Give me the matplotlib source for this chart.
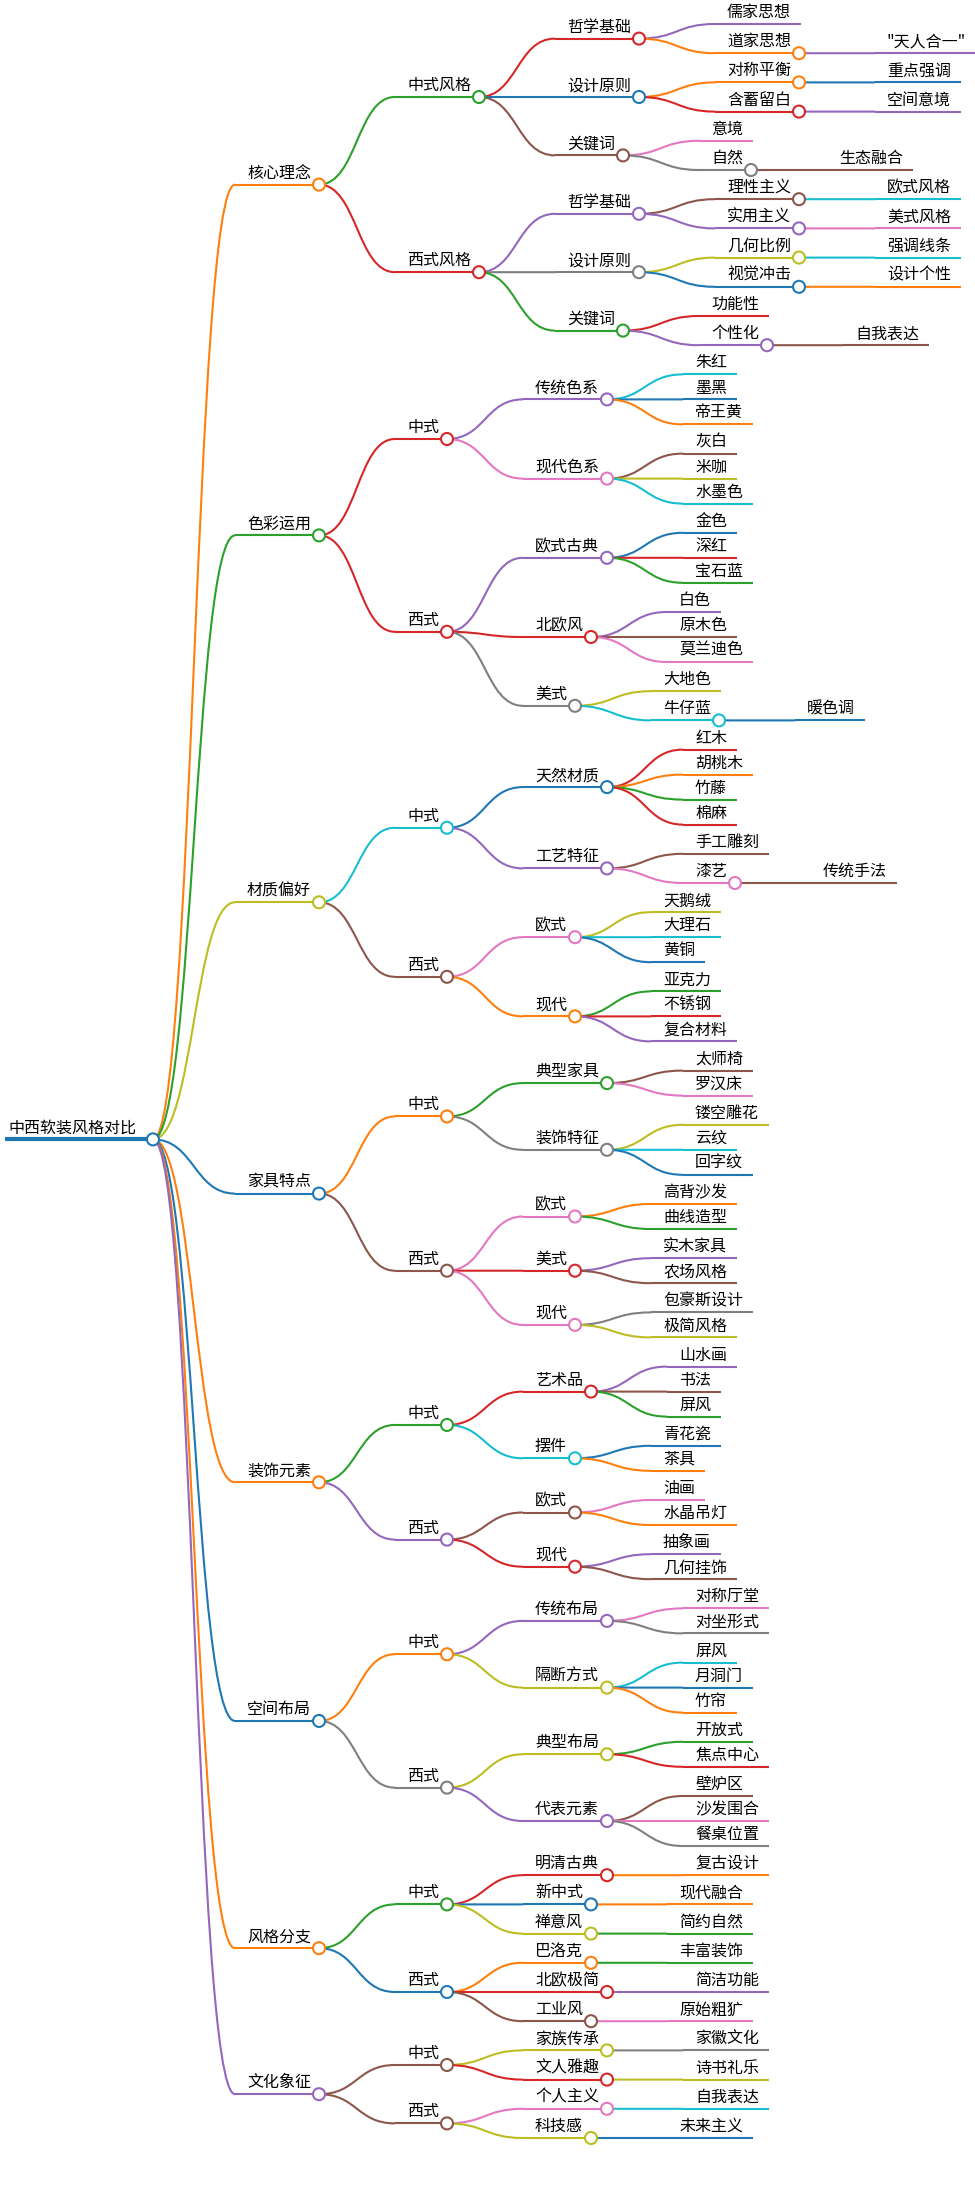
import matplotlib
matplotlib.use("Agg")
import matplotlib.pyplot as plt
from matplotlib.path import Path
from matplotlib.patches import PathPatch, Circle

C = {'b': '#1f77b4', 'o': '#ff7f0e', 'g': '#2ca02c', 'r': '#d62728', 'p': '#9467bd',
     'n': '#8c564b', 'k': '#e377c2', 'y': '#7f7f7f', 'l': '#bcbd22', 'c': '#17becf'}

root_label = "中西软装风格对比"
core = ("核心理念", 'o', [
    ("中式风格", 'g', [
        ("哲学基础", 'r', [("儒家思想", 'p', []), ("道家思想", 'o', [("\"天人合一\"", 'p', [])])]),
        ("设计原则", 'b', [("对称平衡", 'o', [("重点强调", 'b', [])]), ("含蓄留白", 'r', [("空间意境", 'p', [])])]),
        ("关键词", 'n', [("意境", 'k', []), ("自然", 'y', [("生态融合", 'n', [])])])]),
    ("西式风格", 'r', [
        ("哲学基础", 'p', [("理性主义", 'n', [("欧式风格", 'c', [])]), ("实用主义", 'p', [("美式风格", 'k', [])])]),
        ("设计原则", 'y', [("几何比例", 'l', [("强调线条", 'c', [])]), ("视觉冲击", 'b', [("设计个性", 'o', [])])]),
        ("关键词", 'g', [("功能性", 'r', []), ("个性化", 'p', [("自我表达", 'n', [])])])])])
color_use = ("色彩运用", 'g', [
    ("中式", 'r', [
        ("传统色系", 'p', [("朱红", 'c', []), ("墨黑", 'b', []), ("帝王黄", 'o', [])]),
        ("现代色系", 'k', [("灰白", 'n', []), ("米咖", 'l', []), ("水墨色", 'c', [])])]),
    ("西式", 'r', [
        ("欧式古典", 'p', [("金色", 'b', []), ("深红", 'r', []), ("宝石蓝", 'g', [])]),
        ("北欧风", 'r', [("白色", 'p', []), ("原木色", 'n', []), ("莫兰迪色", 'k', [])]),
        ("美式", 'y', [("大地色", 'l', []), ("牛仔蓝", 'c', [("暖色调", 'b', [])])])])])
material = ("材质偏好", 'l', [
    ("中式", 'c', [
        ("天然材质", 'b', [("红木", 'r', []), ("胡桃木", 'o', []), ("竹藤", 'g', []), ("棉麻", 'r', [])]),
        ("工艺特征", 'p', [("手工雕刻", 'n', []), ("漆艺", 'k', [("传统手法", 'n', [])])])]),
    ("西式", 'n', [
        ("欧式", 'k', [("天鹅绒", 'l', []), ("大理石", 'c', []), ("黄铜", 'b', [])]),
        ("现代", 'o', [("亚克力", 'g', []), ("不锈钢", 'r', []), ("复合材料", 'p', [])])])])
furniture = ("家具特点", 'b', [
    ("中式", 'o', [
        ("典型家具", 'g', [("太师椅", 'n', []), ("罗汉床", 'k', [])]),
        ("装饰特征", 'y', [("镂空雕花", 'l', []), ("云纹", 'c', []), ("回字纹", 'b', [])])]),
    ("西式", 'n', [
        ("欧式", 'k', [("高背沙发", 'o', []), ("曲线造型", 'g', [])]),
        ("美式", 'r', [("实木家具", 'p', []), ("农场风格", 'n', [])]),
        ("现代", 'k', [("包豪斯设计", 'y', []), ("极简风格", 'l', [])])])])
decor = ("装饰元素", 'o', [
    ("中式", 'g', [
        ("艺术品", 'r', [("山水画", 'p', []), ("书法", 'n', []), ("屏风", 'g', [])]),
        ("摆件", 'c', [("青花瓷", 'b', []), ("茶具", 'o', [])])]),
    ("西式", 'p', [
        ("欧式", 'n', [("油画", 'k', []), ("水晶吊灯", 'o', [])]),
        ("现代", 'r', [("抽象画", 'p', []), ("几何挂饰", 'n', [])])])])
space = ("空间布局", 'b', [
    ("中式", 'o', [
        ("传统布局", 'p', [("对称厅堂", 'k', []), ("对坐形式", 'y', [])]),
        ("隔断方式", 'l', [("屏风", 'c', []), ("月洞门", 'b', []), ("竹帘", 'o', [])])]),
    ("西式", 'y', [
        ("典型布局", 'l', [("开放式", 'g', []), ("焦点中心", 'r', [])]),
        ("代表元素", 'p', [("壁炉区", 'n', []), ("沙发围合", 'k', []), ("餐桌位置", 'y', [])])])])
branches = ("风格分支", 'o', [
    ("中式", 'g', [("明清古典", 'r', [("复古设计", 'o', [])]), ("新中式", 'b', [("现代融合", 'o', [])]),
                  ("禅意风", 'l', [("简约自然", 'g', [])])]),
    ("西式", 'b', [("巴洛克", 'o', [("丰富装饰", 'g', [])]), ("北欧极简", 'r', [("简洁功能", 'p', [])]),
                  ("工业风", 'n', [("原始粗犷", 'k', [])])])])
culture = ("文化象征", 'p', [
    ("中式", 'n', [("家族传承", 'l', [("家徽文化", 'y', [])]), ("文人雅趣", 'r', [("诗书礼乐", 'l', [])])]),
    ("西式", 'n', [("个人主义", 'k', [("自我表达", 'c', [])]), ("科技感", 'l', [("未来主义", 'b', [])])])])

tree = (root_label, 'b', [core, color_use, material, furniture, decor, space, branches, culture])

W, H = 975, 2194
fig = plt.figure(figsize=(W / 100, H / 100), dpi=100)
ax = fig.add_axes([0, 0, 1, 1])
ax.set_xlim(0, W)
ax.set_ylim(H, 0)
ax.axis('off')
FONT = "Noto Sans CJK SC"
FS = 11.5
renderer = fig.canvas.get_renderer()


def text_w(s):
    t = ax.text(0, 0, s, fontsize=FS, family=FONT)
    w = t.get_window_extent(renderer).width
    t.remove()
    return w


# build node objects
def build(n, parent=None, depth=0):
    name, col, kids = n
    node = {'name': name, 'color': C[col], 'parent': parent, 'depth': depth}
    node['kids'] = [build(k, node, depth + 1) for k in kids]
    return node


R = build(tree)

# vertical layout
leaves = []


def collect(n):
    if not n['kids']:
        leaves.append(n)
    for k in n['kids']:
        collect(k)


collect(R)
PITCH = 25.0
top, bottom = 24.0, 2138.0


def needs_gap(a, b):
    pa, pb = a['parent'], b['parent']
    return pa is not pb or len(pa['kids']) == 1 or len(pb['kids']) == 1


ngap = sum(needs_gap(leaves[i], leaves[i + 1]) for i in range(len(leaves) - 1))
GAP = (bottom - top - PITCH * (len(leaves) - 1)) / ngap
y = top
for i, lf in enumerate(leaves):
    if i > 0:
        y += PITCH + (GAP if needs_gap(leaves[i - 1], lf) else 0)
    lf['y'] = y


def sety(n):
    if n['kids']:
        for k in n['kids']:
            sety(k)
        n['y'] = (n['kids'][0]['y'] + n['kids'][-1]['y']) / 2


sety(R)


# horizontal layout
def setx(n, start):
    n['x0'] = start
    tw = text_w(n['name'])
    n['tx'] = start + 12
    if n['kids']:
        n['x1'] = n['tx'] + tw + 8
    else:
        n['x1'] = n['tx'] + tw + 10
    for k in n['kids']:
        setx(k, n['x1'] + (82 if n['depth'] == 0 else 76))


setx(R, 5)
R['tx'] = 8


def draw(n):
    lw = 3 if n['depth'] == 0 else 1.5
    for k in n['kids']:
        px, py = n['x1'], n['y']
        cx, cy = k['x0'], k['y']
        mx = (px + cx) / 2
        path = Path([(px, py), (mx, py), (mx, cy), (cx, cy)],
                    [Path.MOVETO, Path.CURVE4, Path.CURVE4, Path.CURVE4])
        ax.add_patch(PathPatch(path, fc='none', ec=k['color'], lw=1.5, zorder=1))
        draw(k)
    ax.plot([n['x0'], n['x1']], [n['y'], n['y']], color=n['color'], lw=lw,
            solid_capstyle='butt', zorder=2)
    ax.text(n['tx'], n['y'] - 3, n['name'], fontsize=FS, family=FONT,
            va='bottom', ha='left', color='#000000', zorder=4)
    if n['kids']:
        ax.add_patch(Circle((n['x1'], n['y']), 6, fc='white', ec=n['color'], lw=1.5, zorder=3))


draw(R)
fig.savefig("out.png", dpi=100, facecolor='white')
